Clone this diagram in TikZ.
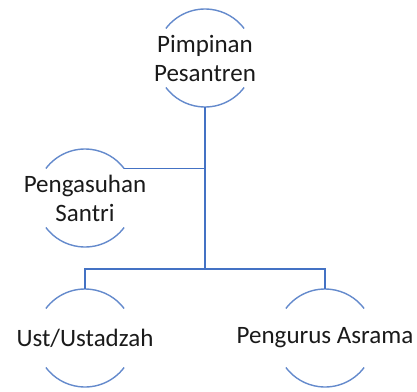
\documentclass[tikz,border=0pt]{standalone}
\usepackage{fontspec}
\setmainfont{Carlito}
\definecolor{lineblue}{RGB}{68,114,196}
\definecolor{arcblue}{RGB}{100,138,204}
\definecolor{txt}{RGB}{26,26,26}
\begin{document}
\begin{tikzpicture}[x=1pt,y=-1pt,
  conn/.style={draw=lineblue,line width=1.4pt},
  arcs/.style={draw=arcblue,line width=1.4pt},
  lbl/.style={align=center,text=txt,font=\fontsize{25}{29}\selectfont,inner sep=0pt}]
\useasboundingbox (0,0) rectangle (417,391);
% circle centres
\coordinate (cA) at (205,58);
\coordinate (cB) at (85,198);
\coordinate (cC) at (85,338);
\coordinate (cD) at (325,338);
\def\rr{49}
% arcs (top and bottom parts of each circle); with y=-1pt angles are mirrored
\foreach \c in {cA,cB,cC,cD}{
  \draw[arcs] ([shift={(37:\rr)}]\c) arc[start angle=37,end angle=143,radius=\rr];
  \draw[arcs] ([shift={(217:\rr)}]\c) arc[start angle=217,end angle=323,radius=\rr];
}
% texts
\node[lbl] (a) at (cA) {Pimpinan\\Pesantren};
\node[lbl] (b) at (cB) {Pengasuhan\\Santri};
\node[lbl] (c) at (cC) {Ust/Ustadzah};
\node[lbl] (d) at (cD) {Pengurus Asrama};
% connector anchor points
\coordinate (aBot) at ([shift={(90:\rr)}]cA);
\coordinate (bEnd) at ([shift={(-37:\rr)}]cB);
\coordinate (cTop) at ([shift={(-90:\rr)}]cC);
\coordinate (dTop) at ([shift={(-90:\rr)}]cD);
\coordinate (jB) at (aBot |- bEnd);
\coordinate (jMid) at (205,269);
% connectors
\draw[conn] (aBot) -- (jMid);
\draw[conn] (jB) -- (bEnd);
\draw[conn] (jMid) -| (cTop);
\draw[conn] (jMid) -| (dTop);
\end{tikzpicture}
\end{document}
